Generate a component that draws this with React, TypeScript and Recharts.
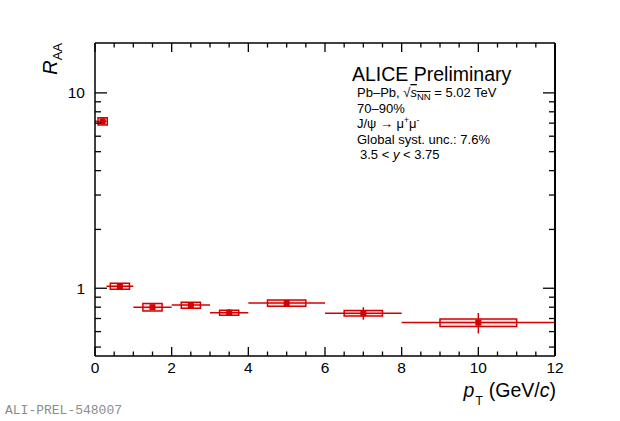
import { ComposedChart, ErrorBar, ReferenceArea, ReferenceLine, Scatter, XAxis, YAxis } from "recharts";

// J/psi R_AA vs pT, Pb-Pb 5.02 TeV, 70-90%
const ptCenter = [0.2, 0.65, 1.5, 2.5, 3.5, 5, 7, 10];
const binLow = [0, 0.3, 1, 2, 3, 4, 6, 8];
const binHigh = [0.3, 1, 2, 3, 4, 6, 8, 12];
const raa = [7.15, 1.024, 0.8, 0.82, 0.75, 0.84, 0.745, 0.667];
const statErr = [0.25, 0.015, 0.012, 0.012, 0.03, 0.015, 0.055, 0.08];
const systErr = [0.3, 0.036, 0.035, 0.029, 0.022, 0.03, 0.024, 0.03];
const boxHalf = [0.12, 0.25, 0.25, 0.25, 0.25, 0.5, 0.5, 1];

const xTicks = [0, 0.5, 1, 1.5, 2, 2.5, 3, 3.5, 4, 4.5, 5, 5.5, 6, 6.5, 7, 7.5, 8, 8.5, 9, 9.5, 10, 10.5, 11, 11.5, 12];
const xLabels = [0, 2, 4, 6, 8, 10, 12];
const yTicks = [0.5, 0.6, 0.7, 0.8, 0.9, 1, 2, 3, 4, 5, 6, 7, 8, 9, 10];
const yLabels = [1, 10];
const xRange = [0, 12];
const yRange = [0.45, 18];

const RED = "#d40000";
const FONT = "'Liberation Sans', Arial, sans-serif";

// pad geometry (chart margins + axis sizes)
const PAD_TOP = 43;
const PAD_BOTTOM = 356;
const PAD_RIGHT = 555;

const data = ptCenter.map((pt, i) => ({
    pt,
    raa: raa[i],
    xErr: [pt - binLow[i], binHigh[i] - pt],
    yErr: statErr[i],
}));

const BottomTick = (props: any) => {
    const { x, y, payload } = props;
    const major = xLabels.includes(payload.value);
    return (
        <g>
            <line x1={x} x2={x} y1={y} y2={y - (major ? 9 : 4.5)} stroke="#000" strokeWidth={1.3} />
            {major && (
                <text x={x} y={y + 17} textAnchor="middle" fontSize={15.5} fontFamily={FONT} fill="#000">
                    {payload.value}
                </text>
            )}
        </g>
    );
};

const TopTick = (props: any) => {
    const { x, y, payload } = props;
    const major = xLabels.includes(payload.value);
    return <line x1={x} x2={x} y1={y} y2={y + (major ? 9 : 4.5)} stroke="#000" strokeWidth={1.3} />;
};

const LeftTick = (props: any) => {
    const { x, y, payload } = props;
    const major = yLabels.includes(payload.value);
    return (
        <g>
            <line x1={x} x2={x + (major ? 12 : 6)} y1={y} y2={y} stroke="#000" strokeWidth={1.3} />
            {major && (
                <text x={x - 10} y={y + 5.5} textAnchor="end" fontSize={15.5} fontFamily={FONT} fill="#000">
                    {payload.value}
                </text>
            )}
        </g>
    );
};

const RightTick = (props: any) => {
    const { x, y, payload } = props;
    const major = yLabels.includes(payload.value);
    return <line x1={x} x2={x - (major ? 12 : 6)} y1={y} y2={y} stroke="#000" strokeWidth={1.3} />;
};

const Marker = (props: any) => {
    const { cx, cy } = props;
    return <rect x={cx - 3} y={cy - 3} width={6} height={6} fill={RED} />;
};

const axisStroke = { stroke: "#000", strokeWidth: 1.5 };

export default function App() {
    return (
        <div style={{ position: "absolute", left: 0, top: 0, width: 620, height: 421, background: "#fff" }}>
            <ComposedChart
                width={620}
                height={421}
                data={data}
                margin={{ top: 23, right: 45, bottom: 35, left: 35 }}
            >
                <XAxis
                    xAxisId="b"
                    dataKey="pt"
                    type="number"
                    domain={xRange}
                    ticks={xTicks}
                    interval={0}
                    height={30}
                    tickSize={0}
                    tickMargin={0}
                    tick={<BottomTick />}
                    axisLine={axisStroke}
                    allowDataOverflow
                />
                <XAxis
                    xAxisId="t"
                    dataKey="pt"
                    orientation="top"
                    type="number"
                    domain={xRange}
                    ticks={xTicks}
                    interval={0}
                    height={20}
                    tickSize={0}
                    tickMargin={0}
                    tick={<TopTick />}
                    axisLine={axisStroke}
                    allowDataOverflow
                />
                <YAxis
                    yAxisId="l"
                    dataKey="raa"
                    type="number"
                    scale="log"
                    domain={yRange}
                    ticks={yTicks}
                    interval={0}
                    width={60}
                    tickSize={0}
                    tickMargin={0}
                    tick={<LeftTick />}
                    axisLine={axisStroke}
                    allowDataOverflow
                />
                <YAxis
                    yAxisId="r"
                    dataKey="raa"
                    orientation="right"
                    type="number"
                    scale="log"
                    domain={yRange}
                    ticks={yTicks}
                    interval={0}
                    width={20}
                    tickSize={0}
                    tickMargin={0}
                    tick={<RightTick />}
                    axisLine={axisStroke}
                    allowDataOverflow
                />
                <ReferenceLine xAxisId="b" yAxisId="l" x={xRange[1]} stroke="#000" strokeWidth={1.5} />
                {ptCenter.map((pt, i) => (
                    <ReferenceArea
                        key={i}
                        xAxisId="b"
                        yAxisId="l"
                        x1={pt - boxHalf[i]}
                        x2={pt + boxHalf[i]}
                        y1={raa[i] - systErr[i]}
                        y2={raa[i] + systErr[i]}
                        stroke={RED}
                        strokeWidth={1.5}
                        fill={RED}
                        fillOpacity={0.12}
                    />
                ))}
                <Scatter
                    xAxisId="b"
                    yAxisId="l"
                    dataKey="raa"
                    shape={<Marker />}
                    isAnimationActive={false}
                >
                    <ErrorBar dataKey="xErr" direction="x" width={0} stroke={RED} strokeWidth={1.5} isAnimationActive={false} />
                    <ErrorBar dataKey="yErr" direction="y" width={0} stroke={RED} strokeWidth={1.5} isAnimationActive={false} />
                </Scatter>
            </ComposedChart>
            <svg
                width={620}
                height={421}
                style={{ position: "absolute", left: 0, top: 0, pointerEvents: "none" }}
                fontFamily={FONT}
            >
                {/* right edge of the pad frame */}
                <line x1={PAD_RIGHT} x2={PAD_RIGHT} y1={PAD_TOP} y2={PAD_BOTTOM} stroke="#000" strokeWidth={1.5} />
                <text transform="translate(57,43) rotate(-90)" textAnchor="end" fontSize={20} fill="#000">
                    <tspan fontStyle="italic">R</tspan>
                    <tspan fontSize={13} dy={5}>AA</tspan>
                </text>
                <text x={556} y={397} textAnchor="end" fontSize={19.5} fill="#000">
                    <tspan fontStyle="italic">p</tspan>
                    <tspan fontSize={12} dy={8} dx={1}>T</tspan>
                    <tspan dy={-8} dx={6}>(GeV/</tspan>
                    <tspan fontStyle="italic">c</tspan>
                    <tspan>)</tspan>
                </text>
                <text x={352} y={81} fontSize={19.5} fill="#000">ALICE Preliminary</text>
                <g fontSize={13} fill="#000">
                    <text x={357} y={97}>
                        <tspan>Pb–Pb, √</tspan>
                        <tspan fontStyle="italic" textDecoration="overline">s</tspan>
                        <tspan fontSize={9.5} dy={3} textDecoration="overline">NN</tspan>
                        <tspan dy={-3}> = 5.02 TeV</tspan>
                    </text>
                    <text x={357} y={112.5}>70–90%</text>
                    <text x={357} y={128}>
                        <tspan>J/ψ → μ</tspan>
                        <tspan fontSize={8.5} dy={-5}>+</tspan>
                        <tspan dy={5}>μ</tspan>
                        <tspan fontSize={8.5} dy={-5}>-</tspan>
                    </text>
                    <text x={357} y={143.5}>Global syst. unc.: 7.6%</text>
                    <text x={360} y={159}>
                        <tspan>3.5 &lt; </tspan>
                        <tspan fontStyle="italic">y</tspan>
                        <tspan> &lt; 3.75</tspan>
                    </text>
                </g>
                <text x={5} y={414} fontSize={13} fontFamily="'Liberation Mono', monospace" fill="#8c8c8c">
                    ALI-PREL-548007
                </text>
            </svg>
        </div>
    );
}
